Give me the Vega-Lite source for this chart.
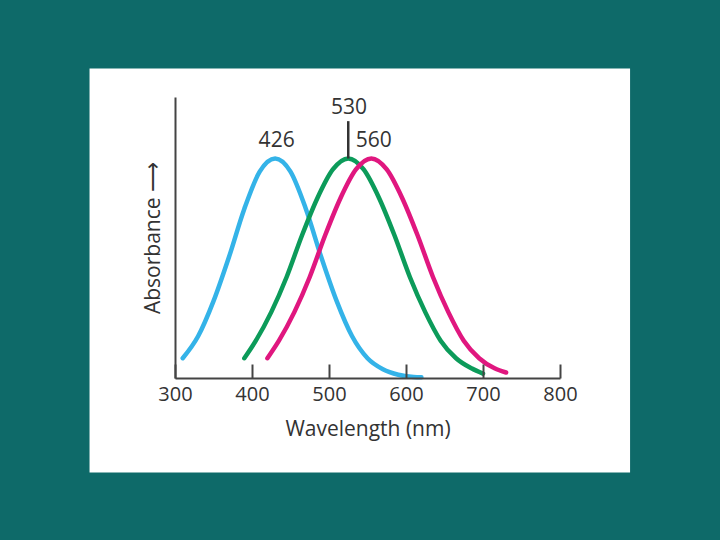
{
  "$schema": "https://vega.github.io/schema/vega-lite/v6.json",
  "autosize": "none",
  "width": 385,
  "height": 281,
  "padding": {"left": 175, "top": 97, "right": 160, "bottom": 162},
  "background": "#0e6a69",
  "config": {"view": {"stroke": null}, "font": "Open Sans"},
  "layer": [
    {
      "data": {"values": [{"x0": 189, "x1": 891, "y0": -0.43, "y1": 1.41}]},
      "mark": {"type": "rect", "color": "white", "clip": false},
      "encoding": {
        "x": {"field": "x0", "type": "quantitative", "scale": {"domain": [300, 800], "nice": false}},
        "x2": {"field": "x1"},
        "y": {"field": "y0", "type": "quantitative", "scale": {"domain": [0, 1.28], "nice": false}},
        "y2": {"field": "y1"}
      }
    },
    {
      "data": {"values": [
        {"c":"blue","nm":310,"a":0.09},{"c":"blue","nm":330,"a":0.19},{"c":"blue","nm":350,"a":0.35},{"c":"blue","nm":370,"a":0.55},{"c":"blue","nm":390,"a":0.77},{"c":"blue","nm":410,"a":0.94},{"c":"blue","nm":430,"a":1},{"c":"blue","nm":450,"a":0.94},{"c":"blue","nm":470,"a":0.77},{"c":"blue","nm":490,"a":0.55},{"c":"blue","nm":510,"a":0.35},{"c":"blue","nm":530,"a":0.19},{"c":"blue","nm":550,"a":0.09},{"c":"blue","nm":570,"a":0.04},{"c":"blue","nm":590,"a":0.015},{"c":"blue","nm":610,"a":0.005},{"c":"blue","nm":620,"a":0.003},
        {"c":"green","nm":390,"a":0.09},{"c":"green","nm":405,"a":0.17},{"c":"green","nm":425,"a":0.3},{"c":"green","nm":445,"a":0.46},{"c":"green","nm":465,"a":0.65},{"c":"green","nm":485,"a":0.82},{"c":"green","nm":505,"a":0.95},{"c":"green","nm":525,"a":1},{"c":"green","nm":545,"a":0.95},{"c":"green","nm":565,"a":0.82},{"c":"green","nm":585,"a":0.65},{"c":"green","nm":605,"a":0.46},{"c":"green","nm":625,"a":0.3},{"c":"green","nm":645,"a":0.17},{"c":"green","nm":665,"a":0.09},{"c":"green","nm":685,"a":0.044},{"c":"green","nm":700,"a":0.02},
        {"c":"magenta","nm":420,"a":0.09},{"c":"magenta","nm":435,"a":0.17},{"c":"magenta","nm":455,"a":0.3},{"c":"magenta","nm":475,"a":0.46},{"c":"magenta","nm":495,"a":0.65},{"c":"magenta","nm":515,"a":0.82},{"c":"magenta","nm":535,"a":0.95},{"c":"magenta","nm":555,"a":1},{"c":"magenta","nm":575,"a":0.95},{"c":"magenta","nm":595,"a":0.82},{"c":"magenta","nm":615,"a":0.65},{"c":"magenta","nm":635,"a":0.46},{"c":"magenta","nm":655,"a":0.3},{"c":"magenta","nm":675,"a":0.17},{"c":"magenta","nm":695,"a":0.09},{"c":"magenta","nm":715,"a":0.044},{"c":"magenta","nm":730,"a":0.025}
      ]},
      "mark": {"type": "line", "strokeWidth": 4.5, "interpolate": "monotone", "strokeCap": "round", "clip": false},
      "encoding": {
        "x": {"field": "nm", "type": "quantitative", "scale": {"domain": [300, 800], "nice": false},
          "axis": {"zindex": 1, "values": [300,400,500,600,700,800], "labelFlush": false, "title": "Wavelength (nm)", "titleFontSize": 21, "titleFontWeight": "normal", "titleColor": "#333", "titlePadding": 14, "labelFontSize": 20, "labelColor": "#333", "tickSize": -14, "tickWidth": 2, "tickColor": "#444", "domainColor": "#444", "domainWidth": 2, "labelPadding": 20, "grid": false}},
        "y": {"field": "a", "type": "quantitative", "scale": {"domain": [0, 1.28], "nice": false},
          "axis": {"zindex": 1, "ticks": false, "labels": false, "grid": false, "title": "Absorbance ⟶", "titleFontSize": 21, "titleFontWeight": "normal", "titleColor": "#333", "titlePadding": 12, "domainColor": "#444", "domainWidth": 2}},
        "color": {"field": "c", "type": "nominal", "legend": null,
          "scale": {"domain": ["blue","green","magenta"], "range": ["#34b3e8","#0c9b5a","#e0177f"]}}
      }
    },
    {
      "data": {"values": [{"nm": 525, "a0": 1, "a1": 1.17}]},
      "mark": {"type": "rule", "strokeWidth": 2.5, "color": "#333"},
      "encoding": {
        "x": {"field": "nm", "type": "quantitative"},
        "y": {"field": "a0", "type": "quantitative"},
        "y2": {"field": "a1"}
      }
    },
    {
      "data": {"values": [
        {"t": "426", "nm": 432, "a": 1.08},
        {"t": "530", "nm": 526, "a": 1.23},
        {"t": "560", "nm": 558, "a": 1.08}
      ]},
      "mark": {"type": "text", "fontSize": 21, "color": "#333", "clip": false},
      "encoding": {
        "x": {"field": "nm", "type": "quantitative"},
        "y": {"field": "a", "type": "quantitative"},
        "text": {"field": "t"}
      }
    }
  ]
}
